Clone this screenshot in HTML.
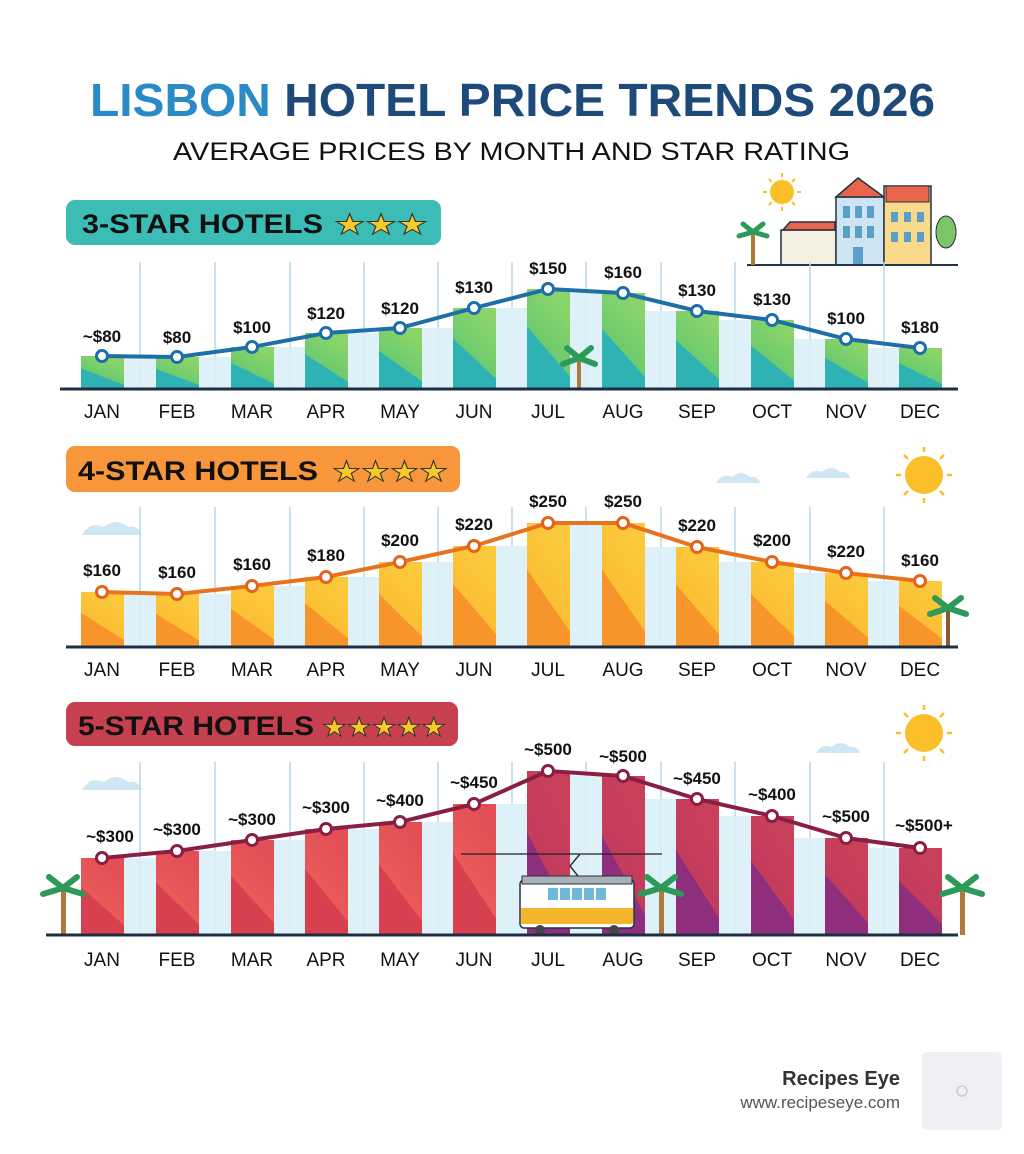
<!DOCTYPE html>
<html><head><meta charset="utf-8"><style>
html,body{margin:0;padding:0;background:#fff}
svg{display:block}
text{font-family:"Liberation Sans",sans-serif}
.l{font-size:17px;font-weight:bold;fill:#111;text-anchor:middle}
.m{font-size:19px;fill:#111;text-anchor:middle}
</style></head><body>
<svg width="1024" height="1154" viewBox="0 0 1024 1154" xmlns="http://www.w3.org/2000/svg">
<defs>
<linearGradient id="g3" x1="0" y1="1" x2="0.5" y2="0"><stop offset="0.5" stop-color="#2fb2b4"/><stop offset="0.5" stop-color="#6ccb6e"/><stop offset="1" stop-color="#8ad46a"/></linearGradient>
<linearGradient id="g4" x1="0" y1="1" x2="0.5" y2="0"><stop offset="0.5" stop-color="#f7952b"/><stop offset="0.5" stop-color="#fbbf34"/><stop offset="1" stop-color="#fcc93c"/></linearGradient>
<linearGradient id="g5a" x1="0" y1="1" x2="0.5" y2="0"><stop offset="0.5" stop-color="#d9404f"/><stop offset="0.5" stop-color="#ea5a58"/><stop offset="1" stop-color="#e24f56"/></linearGradient>
<linearGradient id="g5b" x1="0" y1="1" x2="0.5" y2="0"><stop offset="0.5" stop-color="#8f2e7c"/><stop offset="0.5" stop-color="#c43c5c"/><stop offset="1" stop-color="#c8405a"/></linearGradient>
</defs>
<rect width="1024" height="1154" fill="#fff"/>
<text x="90" y="116" font-size="46" font-weight="bold" textLength="845" lengthAdjust="spacingAndGlyphs"><tspan fill="#2a8ac8">LISBON </tspan><tspan fill="#1d4a78">HOTEL PRICE TRENDS 2026</tspan></text>
<text x="173" y="160" font-size="25" fill="#111" textLength="677" lengthAdjust="spacingAndGlyphs">AVERAGE PRICES BY MONTH AND STAR RATING</text>

<!-- decorations top right -->
<g>
<circle cx="782" cy="192" r="12" fill="#fbbf2a"/>
<g stroke="#fbbf2a" stroke-width="2"><line x1="782" y1="173" x2="782" y2="177"/><line x1="782" y1="207" x2="782" y2="211"/><line x1="763" y1="192" x2="767" y2="192"/><line x1="797" y1="192" x2="801" y2="192"/><line x1="769" y1="179" x2="772" y2="182"/><line x1="795" y1="179" x2="792" y2="182"/><line x1="769" y1="205" x2="772" y2="202"/><line x1="795" y1="205" x2="792" y2="202"/></g>
<rect x="781" y="230" width="55" height="35" fill="#f4f0e0" stroke="#234" stroke-width="1.5"/>
<polygon points="783,230 790,222 835,222 835,230" fill="#e8644a" stroke="#234" stroke-width="1.5"/>
<rect x="836" y="197" width="48" height="68" fill="#cfe4f2" stroke="#234" stroke-width="1.5"/>
<polygon points="836,197 858,178 884,197" fill="#e8644a" stroke="#234" stroke-width="1.5"/>
<rect x="884" y="186" width="47" height="79" fill="#f9d98a" stroke="#234" stroke-width="1.5"/>
<rect x="886" y="186" width="43" height="16" fill="#e8644a" stroke="#234" stroke-width="1"/>
<g fill="#5a9fc8"><rect x="843" y="206" width="7" height="12"/><rect x="855" y="206" width="7" height="12"/><rect x="867" y="206" width="7" height="12"/><rect x="843" y="226" width="7" height="12"/><rect x="855" y="226" width="7" height="12"/><rect x="867" y="226" width="7" height="12"/><rect x="891" y="212" width="7" height="10"/><rect x="904" y="212" width="7" height="10"/><rect x="917" y="212" width="7" height="10"/><rect x="891" y="232" width="7" height="10"/><rect x="904" y="232" width="7" height="10"/><rect x="917" y="232" width="7" height="10"/><rect x="853" y="247" width="10" height="18"/></g>
<ellipse cx="946" cy="232" rx="10" ry="16" fill="#7cc66a" stroke="#234" stroke-width="1"/>
<line x1="747" y1="265" x2="958" y2="265" stroke="#234" stroke-width="2"/>
<rect x="751" y="232" width="4" height="33" fill="#b07a3c"/>
<path d="M753 232 l-14 4 M753 232 l14 4 M753 232 l-10 -8 M753 232 l10 -8" stroke="#2e9a5a" stroke-width="5" stroke-linecap="round"/>
</g>

<!-- PANEL 1 -->
<rect x="66" y="200" width="375" height="45" rx="9" fill="#3bbcb4"/>
<text x="82" y="233" font-size="27" font-weight="bold" fill="#111" textLength="241" lengthAdjust="spacingAndGlyphs">3-STAR HOTELS</text>
<text x="334" y="234" font-size="28" fill="#f8c928" stroke="#333" stroke-width="1" textLength="94" lengthAdjust="spacingAndGlyphs">★★★</text>
<g stroke="#b9d9ea" stroke-width="1.5"><line x1="140" y1="262" x2="140" y2="389"/><line x1="215" y1="262" x2="215" y2="389"/><line x1="290" y1="262" x2="290" y2="389"/><line x1="364" y1="262" x2="364" y2="389"/><line x1="438" y1="262" x2="438" y2="389"/><line x1="512" y1="262" x2="512" y2="389"/><line x1="586" y1="262" x2="586" y2="389"/><line x1="661" y1="262" x2="661" y2="389"/><line x1="735" y1="262" x2="735" y2="389"/><line x1="810" y1="262" x2="810" y2="389"/><line x1="884" y1="262" x2="884" y2="389"/></g>
<g fill="#dcf0f8" opacity="0.9"><rect x="124" y="357" width="32" height="32"/><rect x="199" y="357" width="32" height="32"/><rect x="274" y="347" width="31" height="42"/><rect x="348" y="333" width="31" height="56"/><rect x="422" y="328" width="31" height="61"/><rect x="496" y="308" width="31" height="81"/><rect x="570" y="293" width="32" height="96"/><rect x="645" y="311" width="31" height="78"/><rect x="719" y="320" width="32" height="69"/><rect x="794" y="339" width="31" height="50"/><rect x="868" y="348" width="31" height="41"/></g>
<g fill="url(#g3)"><rect x="81" y="356" width="43" height="33"/><rect x="156" y="357" width="43" height="32"/><rect x="231" y="347" width="43" height="42"/><rect x="305" y="333" width="43" height="56"/><rect x="379" y="328" width="43" height="61"/><rect x="453" y="308" width="43" height="81"/><rect x="527" y="289" width="43" height="100"/><rect x="602" y="293" width="43" height="96"/><rect x="676" y="311" width="43" height="78"/><rect x="751" y="320" width="43" height="69"/><rect x="825" y="339" width="43" height="50"/><rect x="899" y="348" width="43" height="41"/></g>
<rect x="577" y="360" width="4" height="29" fill="#b07a3c"/>
<path d="M579 358 l-16 6 M579 358 l16 6 M579 358 l-12 -10 M579 358 l12 -10" stroke="#2e9a5a" stroke-width="6" stroke-linecap="round"/>
<line x1="60" y1="389" x2="958" y2="389" stroke="#1c2e44" stroke-width="3"/>
<polyline points="102,356 177,357 252,347 326,333 400,328 474,308 548,289 623,293 697,311 772,320 846,339 920,348" fill="none" stroke="#1e6ea8" stroke-width="4"/>
<g fill="#fff" stroke="#1e6ea8" stroke-width="3"><circle cx="102" cy="356" r="5.5"/><circle cx="177" cy="357" r="5.5"/><circle cx="252" cy="347" r="5.5"/><circle cx="326" cy="333" r="5.5"/><circle cx="400" cy="328" r="5.5"/><circle cx="474" cy="308" r="5.5"/><circle cx="548" cy="289" r="5.5"/><circle cx="623" cy="293" r="5.5"/><circle cx="697" cy="311" r="5.5"/><circle cx="772" cy="320" r="5.5"/><circle cx="846" cy="339" r="5.5"/><circle cx="920" cy="348" r="5.5"/></g>
<g class="l"><text x="102" y="342">~$80</text><text x="177" y="343">$80</text><text x="252" y="333">$100</text><text x="326" y="319">$120</text><text x="400" y="314">$120</text><text x="474" y="293">$130</text><text x="548" y="274">$150</text><text x="623" y="278">$160</text><text x="697" y="296">$130</text><text x="772" y="305">$130</text><text x="846" y="324">$100</text><text x="920" y="333">$180</text></g>
<g class="m"><text x="102" y="418">JAN</text><text x="177" y="418">FEB</text><text x="252" y="418">MAR</text><text x="326" y="418">APR</text><text x="400" y="418">MAY</text><text x="474" y="418">JUN</text><text x="548" y="418">JUL</text><text x="623" y="418">AUG</text><text x="697" y="418">SEP</text><text x="772" y="418">OCT</text><text x="846" y="418">NOV</text><text x="920" y="418">DEC</text></g>

<!-- PANEL 2 -->
<rect x="66" y="446" width="394" height="46" rx="9" fill="#f7963a"/>
<text x="78" y="480" font-size="27" font-weight="bold" fill="#111" textLength="240" lengthAdjust="spacingAndGlyphs">4-STAR HOTELS</text>
<text x="332" y="481" font-size="28" fill="#f8c928" stroke="#333" stroke-width="1" textLength="116" lengthAdjust="spacingAndGlyphs">★★★★</text>
<path d="M82 535 q8 -14 22 -8 q12 -10 24 0 q10 -2 14 8 z" fill="#cfe6f4"/>
<path d="M716 483 q6 -10 16 -6 q9 -8 18 0 q8 -1 10 6 z" fill="#cfe6f4"/>
<path d="M806 478 q6 -10 16 -6 q9 -8 18 0 q8 -1 10 6 z" fill="#cfe6f4"/>
<circle cx="924" cy="475" r="19" fill="#fbbf2a"/>
<g stroke="#fbbf2a" stroke-width="2.5"><line x1="924" y1="447" x2="924" y2="452"/><line x1="924" y1="498" x2="924" y2="503"/><line x1="896" y1="475" x2="901" y2="475"/><line x1="947" y1="475" x2="952" y2="475"/><line x1="904" y1="455" x2="908" y2="459"/><line x1="944" y1="455" x2="940" y2="459"/><line x1="904" y1="495" x2="908" y2="491"/><line x1="944" y1="495" x2="940" y2="491"/></g>
<g stroke="#b9d9ea" stroke-width="1.5"><line x1="140" y1="507" x2="140" y2="647"/><line x1="215" y1="507" x2="215" y2="647"/><line x1="290" y1="507" x2="290" y2="647"/><line x1="364" y1="507" x2="364" y2="647"/><line x1="438" y1="507" x2="438" y2="647"/><line x1="512" y1="507" x2="512" y2="647"/><line x1="586" y1="507" x2="586" y2="647"/><line x1="661" y1="507" x2="661" y2="647"/><line x1="735" y1="507" x2="735" y2="647"/><line x1="810" y1="507" x2="810" y2="647"/><line x1="884" y1="507" x2="884" y2="647"/></g>
<g fill="#dcf0f8" opacity="0.9"><rect x="124" y="594" width="32" height="53"/><rect x="199" y="594" width="32" height="53"/><rect x="274" y="586" width="31" height="61"/><rect x="348" y="577" width="31" height="70"/><rect x="422" y="562" width="31" height="85"/><rect x="496" y="546" width="31" height="101"/><rect x="570" y="523" width="32" height="124"/><rect x="645" y="547" width="31" height="100"/><rect x="719" y="562" width="32" height="85"/><rect x="794" y="573" width="31" height="74"/><rect x="868" y="581" width="31" height="66"/></g>
<g fill="url(#g4)"><rect x="81" y="592" width="43" height="55"/><rect x="156" y="594" width="43" height="53"/><rect x="231" y="586" width="43" height="61"/><rect x="305" y="577" width="43" height="70"/><rect x="379" y="562" width="43" height="85"/><rect x="453" y="546" width="43" height="101"/><rect x="527" y="523" width="43" height="124"/><rect x="602" y="523" width="43" height="124"/><rect x="676" y="547" width="43" height="100"/><rect x="751" y="562" width="43" height="85"/><rect x="825" y="573" width="43" height="74"/><rect x="899" y="581" width="43" height="66"/></g>
<rect x="946" y="610" width="4" height="37" fill="#8a5a2c"/>
<path d="M948 608 l-18 6 M948 608 l18 6 M948 608 l-13 -10 M948 608 l13 -10" stroke="#2e9a5a" stroke-width="6" stroke-linecap="round"/>
<line x1="66" y1="647" x2="958" y2="647" stroke="#1c2e44" stroke-width="3"/>
<polyline points="102,592 177,594 252,586 326,577 400,562 474,546 548,523 623,523 697,547 772,562 846,573 920,581" fill="none" stroke="#e8731f" stroke-width="4"/>
<g fill="#fff" stroke="#e0641c" stroke-width="3"><circle cx="102" cy="592" r="5.5"/><circle cx="177" cy="594" r="5.5"/><circle cx="252" cy="586" r="5.5"/><circle cx="326" cy="577" r="5.5"/><circle cx="400" cy="562" r="5.5"/><circle cx="474" cy="546" r="5.5"/><circle cx="548" cy="523" r="5.5"/><circle cx="623" cy="523" r="5.5"/><circle cx="697" cy="547" r="5.5"/><circle cx="772" cy="562" r="5.5"/><circle cx="846" cy="573" r="5.5"/><circle cx="920" cy="581" r="5.5"/></g>
<g class="l"><text x="102" y="576">$160</text><text x="177" y="578">$160</text><text x="252" y="570">$160</text><text x="326" y="561">$180</text><text x="400" y="546">$200</text><text x="474" y="530">$220</text><text x="548" y="507">$250</text><text x="623" y="507">$250</text><text x="697" y="531">$220</text><text x="772" y="546">$200</text><text x="846" y="557">$220</text><text x="920" y="566">$160</text></g>
<g class="m"><text x="102" y="676">JAN</text><text x="177" y="676">FEB</text><text x="252" y="676">MAR</text><text x="326" y="676">APR</text><text x="400" y="676">MAY</text><text x="474" y="676">JUN</text><text x="548" y="676">JUL</text><text x="623" y="676">AUG</text><text x="697" y="676">SEP</text><text x="772" y="676">OCT</text><text x="846" y="676">NOV</text><text x="920" y="676">DEC</text></g>

<!-- PANEL 3 -->
<rect x="66" y="702" width="392" height="44" rx="9" fill="#c7404f"/>
<text x="78" y="735" font-size="27" font-weight="bold" fill="#111" textLength="236" lengthAdjust="spacingAndGlyphs">5-STAR HOTELS</text>
<text x="322" y="736" font-size="26" fill="#f8c928" stroke="#333" stroke-width="1" textLength="124" lengthAdjust="spacingAndGlyphs">★★★★★</text>
<path d="M82 790 q8 -14 22 -8 q12 -10 24 0 q10 -2 14 8 z" fill="#cfe6f4"/>
<path d="M816 753 q6 -10 16 -6 q9 -8 18 0 q8 -1 10 6 z" fill="#cfe6f4"/>
<circle cx="924" cy="733" r="19" fill="#fbbf2a"/>
<g stroke="#fbbf2a" stroke-width="2.5"><line x1="924" y1="705" x2="924" y2="710"/><line x1="924" y1="756" x2="924" y2="761"/><line x1="896" y1="733" x2="901" y2="733"/><line x1="947" y1="733" x2="952" y2="733"/><line x1="904" y1="713" x2="908" y2="717"/><line x1="944" y1="713" x2="940" y2="717"/><line x1="904" y1="753" x2="908" y2="749"/><line x1="944" y1="753" x2="940" y2="749"/></g>
<g stroke="#b9d9ea" stroke-width="1.5"><line x1="140" y1="762" x2="140" y2="935"/><line x1="215" y1="762" x2="215" y2="935"/><line x1="290" y1="762" x2="290" y2="935"/><line x1="364" y1="762" x2="364" y2="935"/><line x1="438" y1="762" x2="438" y2="935"/><line x1="512" y1="762" x2="512" y2="935"/><line x1="586" y1="762" x2="586" y2="935"/><line x1="661" y1="762" x2="661" y2="935"/><line x1="735" y1="762" x2="735" y2="935"/><line x1="810" y1="762" x2="810" y2="935"/><line x1="884" y1="762" x2="884" y2="935"/></g>
<g fill="#dcf0f8" opacity="0.9"><rect x="124" y="858" width="32" height="77"/><rect x="199" y="851" width="32" height="84"/><rect x="274" y="840" width="31" height="95"/><rect x="348" y="829" width="31" height="106"/><rect x="422" y="822" width="31" height="113"/><rect x="496" y="804" width="31" height="131"/><rect x="570" y="776" width="32" height="159"/><rect x="645" y="799" width="31" height="136"/><rect x="719" y="816" width="32" height="119"/><rect x="794" y="838" width="31" height="97"/><rect x="868" y="848" width="31" height="87"/></g>
<g fill="url(#g5a)"><rect x="81" y="858" width="43" height="77"/><rect x="156" y="851" width="43" height="84"/><rect x="231" y="840" width="43" height="95"/><rect x="305" y="829" width="43" height="106"/><rect x="379" y="822" width="43" height="113"/><rect x="453" y="804" width="43" height="131"/></g>
<g fill="url(#g5b)"><rect x="527" y="771" width="43" height="164"/><rect x="602" y="776" width="43" height="159"/><rect x="676" y="799" width="43" height="136"/><rect x="751" y="816" width="43" height="119"/><rect x="825" y="838" width="43" height="97"/><rect x="899" y="848" width="43" height="87"/></g>
<line x1="461" y1="854" x2="662" y2="854" stroke="#222" stroke-width="1.2"/>
<path d="M580 854 l-10 12 l8 10" fill="none" stroke="#333" stroke-width="1.5"/>
<rect x="520" y="880" width="114" height="48" rx="4" fill="#fff" stroke="#234" stroke-width="1.5"/>
<rect x="522" y="876" width="110" height="8" fill="#a8b0b8" stroke="#234" stroke-width="1"/>
<rect x="521" y="908" width="112" height="16" fill="#f5b52a"/>
<g fill="#6fb8d8"><rect x="548" y="888" width="10" height="12"/><rect x="560" y="888" width="10" height="12"/><rect x="572" y="888" width="10" height="12"/><rect x="584" y="888" width="10" height="12"/><rect x="596" y="888" width="10" height="12"/></g>
<circle cx="540" cy="930" r="5" fill="#444"/><circle cx="614" cy="930" r="5" fill="#444"/>
<g fill="#b07a3c"><rect x="659" y="890" width="5" height="45"/><rect x="61" y="890" width="5" height="45"/><rect x="960" y="890" width="5" height="45"/></g>
<g stroke="#2e9a5a" stroke-width="6" stroke-linecap="round">
<path d="M661 888 l-20 6 M661 888 l20 6 M661 888 l-14 -11 M661 888 l14 -11"/>
<path d="M63 888 l-20 6 M63 888 l20 6 M63 888 l-14 -11 M63 888 l14 -11"/>
<path d="M962 888 l-20 6 M962 888 l20 6 M962 888 l-14 -11 M962 888 l14 -11"/></g>
<line x1="46" y1="935" x2="958" y2="935" stroke="#1c2e44" stroke-width="3"/>
<polyline points="102,858 177,851 252,840 326,829 400,822 474,804 548,771 623,776 697,799 772,816 846,838 920,848" fill="none" stroke="#8a1f45" stroke-width="4"/>
<g fill="#fff" stroke="#8a1f45" stroke-width="3"><circle cx="102" cy="858" r="5.5"/><circle cx="177" cy="851" r="5.5"/><circle cx="252" cy="840" r="5.5"/><circle cx="326" cy="829" r="5.5"/><circle cx="400" cy="822" r="5.5"/><circle cx="474" cy="804" r="5.5"/><circle cx="548" cy="771" r="5.5"/><circle cx="623" cy="776" r="5.5"/><circle cx="697" cy="799" r="5.5"/><circle cx="772" cy="816" r="5.5"/><circle cx="846" cy="838" r="5.5"/><circle cx="920" cy="848" r="5.5"/></g>
<g class="l"><text x="110" y="842">~$300</text><text x="177" y="835">~$300</text><text x="252" y="825">~$300</text><text x="326" y="813">~$300</text><text x="400" y="806">~$400</text><text x="474" y="788">~$450</text><text x="548" y="755">~$500</text><text x="623" y="762">~$500</text><text x="697" y="784">~$450</text><text x="772" y="800">~$400</text><text x="846" y="822">~$500</text><text x="924" y="831">~$500+</text></g>
<g class="m"><text x="102" y="966">JAN</text><text x="177" y="966">FEB</text><text x="252" y="966">MAR</text><text x="326" y="966">APR</text><text x="400" y="966">MAY</text><text x="474" y="966">JUN</text><text x="548" y="966">JUL</text><text x="623" y="966">AUG</text><text x="697" y="966">SEP</text><text x="772" y="966">OCT</text><text x="846" y="966">NOV</text><text x="920" y="966">DEC</text></g>

<!-- footer -->
<text x="900" y="1085" font-size="20" font-weight="bold" fill="#333" text-anchor="end">Recipes Eye</text>
<text x="900" y="1108" font-size="17" fill="#555" text-anchor="end">www.recipeseye.com</text>
<rect x="922" y="1052" width="80" height="78" rx="5" fill="#eef0f4"/>
<circle cx="962" cy="1091" r="5" fill="none" stroke="#ccc" stroke-width="1.5"/>
</svg>
</body></html>
